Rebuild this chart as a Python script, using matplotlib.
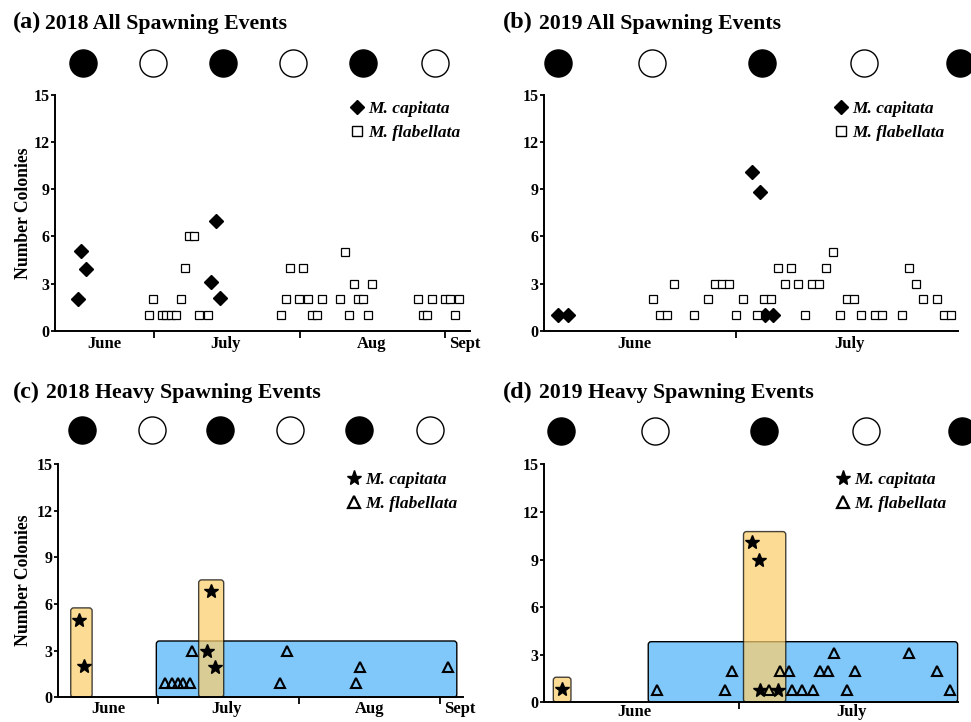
import matplotlib
matplotlib.use("Agg")
import matplotlib.pyplot as plt
from matplotlib.patches import FancyBboxPatch
from matplotlib.lines import Line2D
from matplotlib.font_manager import FontProperties

plt.rcParams["font.family"] = ["Liberation Serif", "DejaVu Serif"]
plt.rcParams["font.weight"] = "bold"

# x values are days counted from 1 June of each year
# --- 2018, all spawning events ---
cap_2018_x = [13.7, 14.4, 15.6, 42.2, 43.1, 44.1]
cap_2018_y = [2.0, 5.05, 3.9, 3.1, 6.95, 2.05]
flab_2018_x = [28.9, 29.8, 31.6, 32.6, 33.6, 34.6, 35.7, 36.6, 37.5, 38.5, 39.5, 41.4,
               57.1, 58.0, 59.0, 60.9, 61.8, 62.8, 63.7, 64.8, 65.8, 69.7, 70.7, 71.6,
               72.6, 73.5, 74.5, 75.5, 76.5,
               86.2, 87.2, 88.2, 89.2, 91.9, 93.1, 94.0, 95.0]
flab_2018_y = [1, 2, 1, 1, 1, 1, 2, 4, 6, 6, 1, 1,
               1, 2, 4, 2, 4, 2, 1, 1, 2, 2, 5, 1, 3, 2, 2, 1, 3,
               2, 1, 1, 2, 2, 2, 1, 2]

# --- 2019, all spawning events ---
cap_2019_x = [4.3, 5.7, 32.3, 33.4, 34.2, 35.4]
cap_2019_y = [1, 1, 10.1, 8.8, 1, 1]
flab_2019_x = [18, 19, 20, 21, 24, 26, 27, 28, 29, 30, 31, 33, 34, 35, 36, 37, 38, 39,
               40, 41, 42, 43, 44, 45, 46, 47, 48, 50, 51, 54, 55, 56, 57, 59, 60, 61]
flab_2019_y = [2, 1, 1, 3, 1, 2, 3, 3, 3, 1, 2, 1, 2, 2, 4, 3, 4, 3,
               1, 3, 3, 4, 5, 1, 2, 2, 1, 1, 1, 1, 4, 3, 2, 2, 1, 1]

# --- 2018, heavy spawning events ---
cap_heavy_2018_x = [12.7, 13.8, 40.8, 41.7, 42.65]
cap_heavy_2018_y = [5.0, 2.0, 3.0, 6.85, 1.95]
flab_heavy_2018_x = [31.6, 33.1, 34.4, 35.6, 37.0, 37.5, 56.9, 58.4, 73.6, 74.5, 93.7]
flab_heavy_2018_y = [0.9, 0.9, 0.9, 0.9, 0.9, 2.95, 0.9, 2.95, 0.9, 1.97, 1.97]
# spawning windows: (start, end, top)
cap_win_2018 = [(10.9, 15.6, 5.75), (39.0, 44.5, 7.55)]
flab_win_2018 = [(29.7, 95.7, 3.62)]

# --- 2019, heavy spawning events ---
cap_heavy_2019_x = [4.5, 31.9, 32.9, 33.1, 35.7]
cap_heavy_2019_y = [0.85, 10.1, 8.95, 0.8, 0.8]
flab_heavy_2019_x = [18.25, 28.0, 29.1, 34.4, 35.9, 37.2, 37.7, 39.1, 40.8, 41.7, 42.9,
                     43.7, 45.7, 46.8, 54.6, 58.6, 60.5]
flab_heavy_2019_y = [0.8, 0.8, 2.0, 0.8, 2.0, 2.0, 0.8, 0.8, 0.8, 2.0, 2.0,
                     3.1, 0.8, 2.0, 3.1, 2.0, 0.8]
cap_win_2019 = [(3.25, 5.8, 1.58), (30.7, 36.8, 10.76)]
flab_win_2019 = [(16.95, 61.6, 3.82)]

# lunar phases (True = new moon, False = full moon)
moon_2018_all_x = [14.8, 29.7, 44.6, 59.7, 74.6, 89.9]
moon_2018_heavy_x = [13.3, 28.7, 43.7, 59.1, 74.3, 89.8]
moon_2018_new = [True, False, True, False, True, False]
moon_2019_x = [4.3, 17.9, 33.7, 48.4, 62.3]
moon_2019_new = [True, False, True, False, True]

# months
month_edges_2018 = [30, 61, 92]
months_2018 = ["June", "July", "Aug", "Sept"]
month_pos_2018a = [19.45, 45.3, 76.3, 96.25]
month_pos_2018c = [19.15, 45.2, 76.5, 96.25]
month_edges_2019 = [30]
months_2019 = ["June", "July"]
month_pos_2019b = [15.4, 46.45]
month_pos_2019d = [14.9, 46.3]

species = ["M. capitata", "M. flabellata"]

W, H = 971, 722
fig = plt.figure(figsize=(W / 100, H / 100), dpi=100)

BLUE = "#80C8FA"
ORANGE = "#FCCE6D"
LEG_FONT = FontProperties(family=["Liberation Serif"], style="italic", weight="bold", size=12.5)

leg_all = [Line2D([], [], marker="D", ms=7.3, color="black", ls="none"),
           Line2D([], [], marker="s", ms=6.8, mfc="white", mec="black", mew=1.0, ls="none")]
leg_heavy = [Line2D([], [], marker="*", ms=11, color="black", ls="none"),
             Line2D([], [], marker="^", ms=8.5, mfc="none", mec="black", mew=1.6, ls="none")]


def add_axes_px(left, right, top, bottom):
    return fig.add_axes([left / W, 1 - bottom / H, (right - left) / W, (bottom - top) / H])


def setup(ax, xlim, edges, names, pos, label_pad):
    ax.set_xlim(*xlim)
    ax.set_ylim(0, 15)
    ax.set_yticks(range(0, 16, 3))
    ax.set_xticks(edges)
    ax.set_xticklabels([])
    ax.set_xticks(pos, minor=True)
    ax.set_xticklabels(names, minor=True)
    ax.tick_params(axis="x", which="minor", length=0, pad=label_pad, labelsize=12)
    ax.tick_params(axis="x", which="major", length=5, width=1.3, direction="out")
    ax.tick_params(axis="y", length=3, width=1.3, labelsize=11.5, pad=1)
    for s in ["top", "right"]:
        ax.spines[s].set_visible(False)
    for s in ["left", "bottom"]:
        ax.spines[s].set_linewidth(1.4)


def add_legend(ax, handles, anchor):
    ax.legend(handles, species, loc="upper left", bbox_to_anchor=anchor, frameon=False,
              borderpad=0, handlelength=0.8, handletextpad=0.25, labelspacing=0.45,
              prop=LEG_FONT)


def draw_moons(ax, xs, new, yfrac):
    for x, n in zip(xs, new):
        ax.plot([x], [yfrac], "o", ms=19.5, mfc="black" if n else "white", mec="black",
                mew=1.0, transform=ax.get_xaxis_transform(), clip_on=False)


def draw_windows(ax, wins, color, alpha, z):
    bb = ax.get_window_extent()
    x0, x1 = ax.get_xlim()
    xpu = bb.width / (x1 - x0)
    ypu = bb.height / 15
    for a, b, top in wins:
        p = FancyBboxPatch((a, 0), b - a, top,
                           boxstyle="round,pad=0,rounding_size=%.3f" % (3.0 / xpu),
                           mutation_aspect=xpu / ypu, fc=color, ec="black", lw=1.0,
                           alpha=alpha, zorder=z, clip_on=False)
        ax.add_patch(p)


# (a)
ax_a = add_axes_px(55, 470, 95, 330.7)
setup(ax_a, (8.9, 97.3), month_edges_2018, months_2018, month_pos_2018a, 3.5)
ax_a.plot(cap_2018_x, cap_2018_y, "D", ms=7, color="black", ls="none", zorder=3)
ax_a.plot(flab_2018_x, flab_2018_y, "s", ms=5.3, mfc="white", mec="black", mew=0.9,
          ls="none", zorder=3)
draw_moons(ax_a, moon_2018_all_x, moon_2018_new, 1.135)
add_legend(ax_a, leg_all, (0.689, 1.01))

# (b)
ax_b = add_axes_px(544.3, 958.3, 95, 330.7)
setup(ax_b, (2.34, 62.07), month_edges_2019, months_2019, month_pos_2019b, 3.5)
ax_b.plot(cap_2019_x, cap_2019_y, "D", ms=7, color="black", ls="none", zorder=3)
ax_b.plot(flab_2019_x, flab_2019_y, "s", ms=5.3, mfc="white", mec="black", mew=0.9,
          ls="none", zorder=3)
draw_moons(ax_b, moon_2019_x, moon_2019_new, 1.135)
add_legend(ax_b, leg_all, (0.68, 1.013))

# (c)
ax_c = add_axes_px(58.3, 463, 464, 697.3)
setup(ax_c, (8.17, 97.06), month_edges_2018, months_2018, month_pos_2018c, 2.5)
draw_windows(ax_c, flab_win_2018, BLUE, 1.0, 1)
draw_windows(ax_c, cap_win_2018, ORANGE, 0.72, 2)
ax_c.plot(cap_heavy_2018_x, cap_heavy_2018_y, "*", ms=10, color="black", ls="none", zorder=4)
ax_c.plot(flab_heavy_2018_x, flab_heavy_2018_y, "^", ms=7.5, mfc="none", mec="black",
          mew=1.5, ls="none", zorder=4)
draw_moons(ax_c, moon_2018_heavy_x, moon_2018_new, 1.146)
add_legend(ax_c, leg_heavy, (0.693, 1.003))

# (d)
ax_d = add_axes_px(544.3, 958.3, 464.3, 702.3)
setup(ax_d, (1.95, 61.7), month_edges_2019, months_2019, month_pos_2019d, 1.5)
draw_windows(ax_d, flab_win_2019, BLUE, 1.0, 1)
draw_windows(ax_d, cap_win_2019, ORANGE, 0.72, 2)
ax_d.plot(cap_heavy_2019_x, cap_heavy_2019_y, "*", ms=10, color="black", ls="none", zorder=4)
ax_d.plot(flab_heavy_2019_x, flab_heavy_2019_y, "^", ms=7.5, mfc="none", mec="black",
          mew=1.5, ls="none", zorder=4)
draw_moons(ax_d, moon_2019_x, moon_2019_new, 1.142)
add_legend(ax_d, leg_heavy, (0.684, 1.006))

# panel titles
titles = [("(a)", "2018 All Spawning Events", 13, 45, 28.5),
          ("(b)", "2019 All Spawning Events", 503, 539, 28.5),
          ("(c)", "2018 Heavy Spawning Events", 13, 45.5, 398.3),
          ("(d)", "2019 Heavy Spawning Events", 503, 539, 398.3)]
for tag, name, xt, xn, yb in titles:
    fig.text(xt / W, 1 - yb / H, tag, fontsize=17.5, fontweight="bold", va="baseline")
    fig.text(xn / W, 1 - yb / H, name, fontsize=15.7, fontweight="bold", va="baseline")

fig.text(23 / W, 1 - 212.8 / H, "Number Colonies", rotation=90, ha="center", va="center",
         fontsize=12.7, fontweight="bold")
fig.text(23.3 / W, 1 - 580.7 / H, "Number Colonies", rotation=90, ha="center", va="center",
         fontsize=12.7, fontweight="bold")

fig.savefig("out.png", dpi=100)
